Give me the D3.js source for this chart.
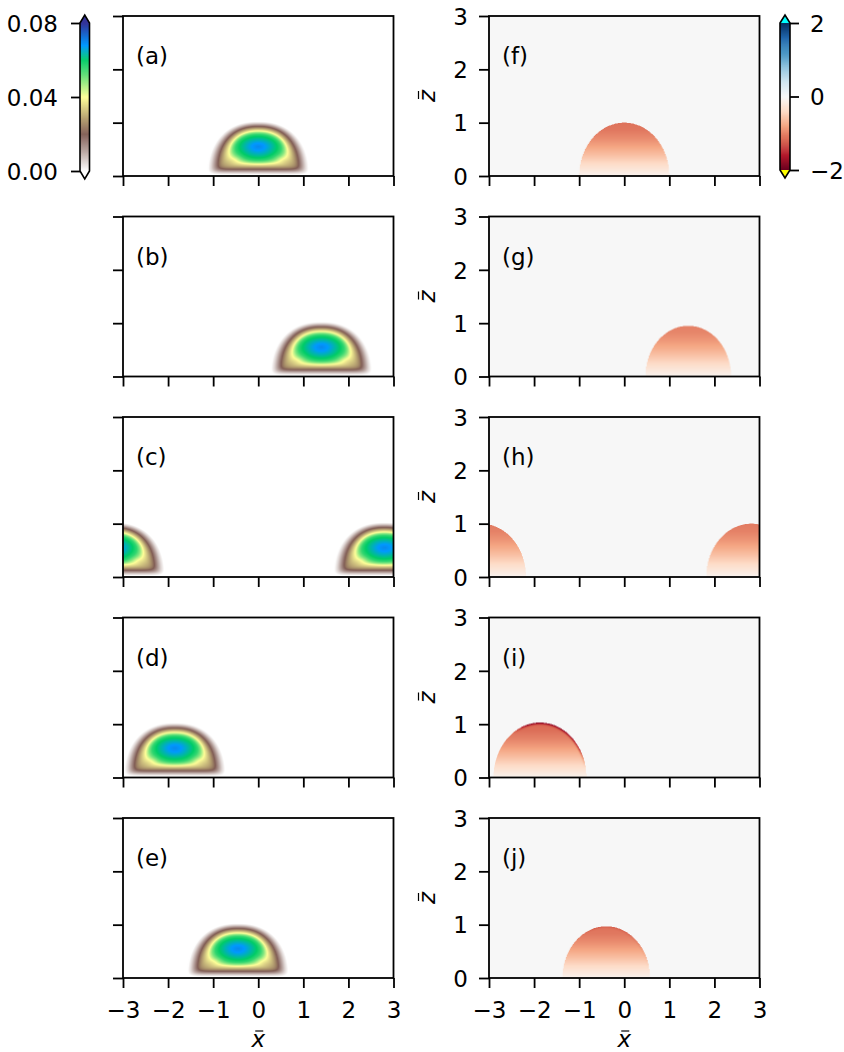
<!DOCTYPE html>
<html>
<head>
<meta charset="utf-8">
<script src="https://cdn.jsdelivr.net/npm/d3@7"></script>
<style>
  html, body { margin: 0; padding: 0; background: #fff; }
  svg { display: block; font-family: "DejaVu Sans", sans-serif; }
</style>
</head>
<body>
<svg id="fig" width="844" height="1052"></svg>
<script>
// ---- axis extents and ticks ----
const xDomain = [-3, 3];
const zDomain = [0, 3];
const xTickValues = [-3, -2, -1, 0, 1, 2, 3];
const zTickValues = [0, 1, 2, 3];

// ---- panel letters ----
const leftLetters = ["(a)", "(b)", "(c)", "(d)", "(e)"];
const rightLetters = ["(f)", "(g)", "(h)", "(i)", "(j)"];

// ---- tracer concentration (left column): bubble centre per snapshot ----
const tracerCentreX = [0.0, 1.4, 2.8, -1.85, -0.45];
const tracerCentreZ = 0.55;     // height of the concentration maximum
const tracerTop = 0.97;         // top of the bubble
const tracerFloor = 0.08;       // lower edge of the bubble
// concentration vs normalised distance from the maximum (1 = bubble edge)
const tracerRadius = [0.0, 0.15, 0.3, 0.45, 0.55, 0.62, 0.7, 0.8, 0.9, 0.98, 1.05, 1.12];
const tracerLevel = [0.070, 0.068, 0.064, 0.060, 0.056, 0.050, 0.040, 0.030, 0.020, 0.012, 0.005, 0.0];

// ---- vorticity (right column): dome centre x, strength and rim per snapshot ----
const vortCentreX = [0.0, 1.42, 2.82, -1.87, -0.4];
const vortRadius = [1.0, 0.95, 1.0, 1.03, 0.97];
const vortStrength = [1.0, 0.92, 0.95, 1.05, 1.0];
const vortRim = [0.0, 0.0, 0.0, 0.7, 0.1];
// magnitude vs height inside the dome
const vortHeight = [0.0, 0.1, 0.25, 0.4, 0.55, 0.7, 0.85, 1.0];
const vortLevel = [0.08, 0.22, 0.42, 0.62, 0.8, 0.95, 1.06, 1.1];

// ---- colour bars ----
const tracerMax = 0.08;
const tracerTicks = [0.0, 0.04, 0.08];
const tracerTickLabels = ["0.00", "0.04", "0.08"];
const vortTicks = [-2, 0, 2];
const vortTickLabels = ["\u22122", "0", "2"];

// terrain (reversed) colour stops
const terrainPos = [0, 0.25, 0.5, 0.75, 0.85, 1];
const terrainColors = ["#ffffff", "rgb(128,92,84)", "rgb(255,255,153)", "rgb(0,204,102)", "rgb(0,153,255)", "rgb(51,51,153)"];
// RdBu colour stops
const rdbuColors = ["#67001f", "#b2182b", "#d6604d", "#f4a582", "#fddbc7", "#f7f7f7",
                    "#d1e5f0", "#92c5de", "#4393c3", "#2166ac", "#053061"];

// ---- layout ----
const colX = [123, 489];
const panelW = 270.5;
const panelH = 160;
const rowTop = i => 16 + 200.5 * i;
const fontSize = 23;
const lineW = 1.8;
const tickLen = 10;

const svg = d3.select("#fig");

const tracerColor = d3.scaleLinear()
  .domain(terrainPos.map(p => p * tracerMax))
  .range(terrainColors)
  .interpolate(d3.interpolateRgb)
  .clamp(true);

const vortColor = d3.scaleLinear()
  .domain(d3.range(11).map(k => -2 + 0.4 * k))
  .range(rdbuColors)
  .interpolate(d3.interpolateRgb)
  .clamp(true);

const tracerAt = d3.scaleLinear().domain(tracerRadius).range(tracerLevel).clamp(true);
const vortAt = d3.scaleLinear().domain(vortHeight).range(vortLevel).clamp(true);

const period = xDomain[1] - xDomain[0];

function smoothMin(a, b, k) {
  return -k * Math.log(Math.exp(-a / k) + Math.exp(-b / k));
}

// Bubble outline: a rounded dome (superellipse) cut by a flat lower edge.
// Distance from the maximum to the outline, tabulated by direction.
const domeExp = 2.3, domeBase = 0.05, domeHalfW = 1.0;
const domeHalfH = tracerTop - domeBase;
const nDir = 720;
const edgeDist = d3.range(nDir).map(k => {
  const a = 2 * Math.PI * k / nDir;
  const ux = Math.cos(a), uz = Math.sin(a);
  const inside = t => Math.pow(Math.abs(t * ux) / domeHalfW, domeExp) +
                      Math.pow(Math.abs(tracerCentreZ - domeBase + t * uz) / domeHalfH, domeExp) < 1;
  let lo = 0, hi = 2;
  for (let it = 0; it < 30; it++) {
    const mid = (lo + hi) / 2;
    if (inside(mid)) lo = mid; else hi = mid;
  }
  let L = lo;
  if (uz < -1e-6) L = smoothMin(L, (tracerCentreZ - tracerFloor) / -uz, 0.09);
  return L;
});

function tracerField(x, z, i) {
  let c = 0;
  for (const s of [-period, 0, period]) {
    const dx = x - tracerCentreX[i] - s;
    if (Math.abs(dx) > 1.6) continue;
    const dz = z - tracerCentreZ;
    const d = Math.hypot(dx, dz);
    let a = Math.atan2(dz, dx);
    if (a < 0) a += 2 * Math.PI;
    const f = a / (2 * Math.PI) * nDir;
    const k0 = Math.floor(f) % nDir, k1 = (k0 + 1) % nDir, w = f - Math.floor(f);
    const L = edgeDist[k0] * (1 - w) + edgeDist[k1] * w;
    const rOuter = d / L;
    // elliptical core blending into the dome-shaped rim
    const rCore = Math.hypot(dx / 0.93, dz / (dz > 0 ? 0.42 : 0.47));
    const s2 = Math.max(0, Math.min(1, (rOuter - 0.35) / 0.55));
    const blend = s2 * s2 * (3 - 2 * s2);
    const r = rCore * (1 - blend) + rOuter * blend;
    c = Math.max(c, tracerAt(r));
  }
  return c;
}

function vortField(x, z, i) {
  let v = 0;
  for (const s of [-period, 0, period]) {
    const u = (x - vortCentreX[i] - s) / vortRadius[i];
    const zz = z / vortRadius[i];
    const R = Math.hypot(u, zz);
    if (R >= 1) continue;
    let val = -vortStrength[i] * vortAt(zz);
    if (vortRim[i] > 0) {
      const theta = Math.atan2(zz, u) * 180 / Math.PI;
      const band = Math.exp(-Math.pow((1 - R) / 0.03, 2));
      const arc = Math.max(0, Math.min(1, (theta - 10) / 20)) * Math.max(0, Math.min(1, (125 - theta) / 20));
      val -= vortRim[i] * band * arc;
    }
    v = Math.min(v, val);
  }
  return v;
}

// raster of a field, sampled on the panel grid through the scales
function fieldImage(xs, zs, field, color) {
  const ss = 2;
  const w = Math.round(panelW * ss), h = Math.round(panelH * ss);
  const canvas = document.createElement("canvas");
  canvas.width = w; canvas.height = h;
  const ctx = canvas.getContext("2d");
  const img = ctx.createImageData(w, h);
  for (let py = 0; py < h; py++) {
    const z = zs.invert((py + 0.5) / ss);
    for (let px = 0; px < w; px++) {
      const x = xs.invert((px + 0.5) / ss);
      const c = d3.rgb(color(field(x, z)));
      const k = 4 * (py * w + px);
      img.data[k] = c.r; img.data[k + 1] = c.g; img.data[k + 2] = c.b; img.data[k + 3] = 255;
    }
  }
  ctx.putImageData(img, 0, 0);
  return canvas.toDataURL();
}

function styleAxis(g) {
  g.select(".domain").remove();
  g.selectAll(".tick line").attr("stroke", "#000").attr("stroke-width", lineW);
  g.selectAll(".tick text").attr("fill", "#000").attr("font-size", fontSize)
    .attr("font-family", "DejaVu Sans, sans-serif");
}

for (let i = 0; i < 5; i++) {
  for (let col = 0; col < 2; col++) {
    const x0 = colX[col], y0 = rowTop(i);
    const xs = d3.scaleLinear().domain(xDomain).range([0, panelW]);
    const zs = d3.scaleLinear().domain(zDomain).range([panelH, 0]);
    const g = svg.append("g").attr("transform", `translate(${x0},${y0})`);

    const field = col === 0 ? ((x, z) => tracerField(x, z, i)) : ((x, z) => vortField(x, z, i));
    g.append("image").attr("x", 0).attr("y", 0).attr("width", panelW).attr("height", panelH)
      .attr("preserveAspectRatio", "none")
      .attr("href", fieldImage(xs, zs, field, col === 0 ? tracerColor : vortColor));

    // bottom axis
    const xAxis = d3.axisBottom(xs).tickValues(xTickValues).tickSize(tickLen).tickPadding(14)
      .tickFormat(i === 4 ? (d => d < 0 ? "\u2212" + Math.abs(d) : String(d)) : () => "");
    g.append("g").attr("transform", `translate(0,${panelH})`).call(xAxis).call(styleAxis);

    // left axis
    const zAxis = d3.axisLeft(zs).tickValues(zTickValues).tickSize(tickLen).tickPadding(11)
      .tickFormat(col === 1 ? (d => String(d)) : () => "");
    g.append("g").call(zAxis).call(styleAxis)
      .selectAll(".tick text").attr("dy", "0.36em");

    // frame
    g.append("rect").attr("x", 0).attr("y", 0).attr("width", panelW).attr("height", panelH)
      .attr("fill", "none").attr("stroke", "#000").attr("stroke-width", lineW);

    // panel letter
    g.append("text").attr("x", 13).attr("y", 48).attr("font-size", fontSize)
      .text(col === 0 ? leftLetters[i] : rightLetters[i]);

    // z-bar label for the right column
    if (col === 1) {
      const lz = svg.append("g").attr("transform", `translate(435,${y0 + panelH / 2}) rotate(-90)`);
      lz.append("text").attr("x", 0).attr("y", 0).attr("text-anchor", "middle")
        .attr("font-size", fontSize).attr("font-style", "italic").text("z");
      lz.append("line").attr("x1", -3).attr("x2", 5).attr("y1", -16.5).attr("y2", -16.5)
        .attr("stroke", "#000").attr("stroke-width", 1.2);
    }

    // x-bar label under the last row
    if (i === 4) {
      const cx = x0 + panelW / 2;
      svg.append("text").attr("x", cx).attr("y", 1047).attr("text-anchor", "middle")
        .attr("font-size", fontSize).attr("font-style", "italic").text("x");
      svg.append("line").attr("x1", cx - 3).attr("x2", cx + 5).attr("y1", 1031).attr("y2", 1031)
        .attr("stroke", "#000").attr("stroke-width", 1.2);
    }
  }
}

// ---- colour bars ----
function colourBar(opts) {
  const { x, w, top, bottom, ext, domain, color, overColor, underColor, ticks, labels, side } = opts;
  const ys = d3.scaleLinear().domain(domain).range([bottom, top]);
  const g = svg.append("g");
  const n = 150;
  const step = (domain[1] - domain[0]) / n;
  g.selectAll("rect.cell").data(d3.range(n)).join("rect")
    .attr("class", "cell")
    .attr("x", x).attr("width", w)
    .attr("y", k => ys(domain[0] + (k + 1) * step) - 0.3)
    .attr("height", k => ys(domain[0] + k * step) - ys(domain[0] + (k + 1) * step) + 0.6)
    .attr("fill", k => color(domain[0] + (k + 0.5) * step));
  g.append("path").attr("d", `M${x},${top}L${x + w / 2},${top - ext}L${x + w},${top}Z`).attr("fill", overColor);
  g.append("path").attr("d", `M${x},${bottom}L${x + w / 2},${bottom + ext}L${x + w},${bottom}Z`).attr("fill", underColor);
  g.append("path")
    .attr("d", `M${x},${top}L${x + w / 2},${top - ext}L${x + w},${top}L${x + w},${bottom}L${x + w / 2},${bottom + ext}L${x},${bottom}Z`)
    .attr("fill", "none").attr("stroke", "#000").attr("stroke-width", 1.6).attr("stroke-linejoin", "miter");

  const axis = (side === "left" ? d3.axisLeft(ys) : d3.axisRight(ys))
    .tickValues(ticks).tickSize(9).tickPadding(side === "left" ? 13 : 11)
    .tickFormat((d, k) => labels[k]);
  g.append("g").attr("transform", `translate(${side === "left" ? x : x + w},0)`).call(axis).call(styleAxis)
    .selectAll(".tick text").attr("dy", "0.36em");
}

colourBar({
  x: 80, w: 9.5, top: 23, bottom: 171, ext: 8,
  domain: [0, tracerMax], color: tracerColor,
  overColor: terrainColors[terrainColors.length - 1], underColor: terrainColors[0],
  ticks: tracerTicks, labels: tracerTickLabels, side: "left"
});

colourBar({
  x: 780, w: 10, top: 23, bottom: 170, ext: 8,
  domain: [-2, 2], color: vortColor,
  overColor: "#00ffff", underColor: "#ffff00",
  ticks: vortTicks, labels: vortTickLabels, side: "right"
});
</script>
</body>
</html>
